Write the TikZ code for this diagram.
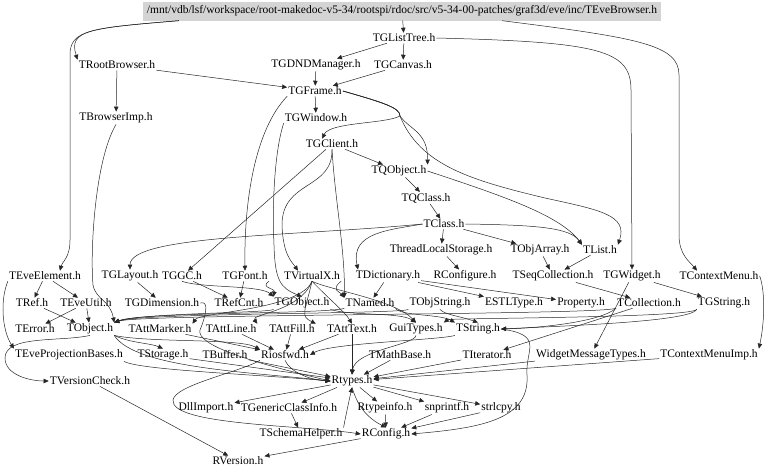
\documentclass[tikz,border=0pt]{standalone}
\usepackage{fontspec}
\setmainfont{Liberation Serif}
\usetikzlibrary{arrows.meta,graphs}
\tikzset{
    file/.style ={
        inner sep=1pt,
        font=\fontsize{11.5}{13}\selectfont
    },
    mainfile/.style ={
        file,
        fill=black!17,
        minimum height=19pt,
        inner xsep=4pt
    },
    dep/.style ={
        ->,
        draw=black!85,
        line width=0.5pt
    }
}

\begin{document}
\begin{tikzpicture}[x=1pt,y=-1pt,>={Triangle[length=5pt,width=4.5pt]}]
    \useasboundingbox (0,0) rectangle (768,475);
    \node[mainfile] (root) at(402,11) {/mnt/vdb/lsf/workspace/root-makedoc-v5-34/rootspi/rdoc/src/v5-34-00-patches/graf3d/eve/inc/TEveBrowser.h};
    \node[file] (TGListTree) at(404,38) {TGListTree.h};
    \node[file] (TRootBrowser) at(117,65) {TRootBrowser.h};
    \node[file] (TGDNDManager) at(316,65) {TGDNDManager.h};
    \node[file] (TGCanvas) at(403,65) {TGCanvas.h};
    \node[file] (TGFrame) at(315,91) {TGFrame.h};
    \node[file] (TBrowserImp) at(116,118) {TBrowserImp.h};
    \node[file] (TGWindow) at(316,118) {TGWindow.h};
    \node[file] (TGClient) at(332,144) {TGClient.h};
    \node[file] (TQObject) at(399,171) {TQObject.h};
    \node[file] (TQClass) at(426,198) {TQClass.h};
    \node[file] (TClass) at(444,224) {TClass.h};
    \node[file] (ThreadLocalStorage) at(441,250) {ThreadLocalStorage.h};
    \node[file] (TObjArray) at(540,250) {TObjArray.h};
    \node[file] (TList) at(600,250) {TList.h};
    % row of TEveElement
    \node[file] (TEveElement) at(45,276) {TEveElement.h};
    \node[file] (TGLayout) at(130,276) {TGLayout.h};
    \node[file] (TGGC) at(182,276) {TGGC.h};
    \node[file] (TGFont) at(245,276) {TGFont.h};
    \node[file] (TVirtualX) at(312,276) {TVirtualX.h};
    \node[file] (TDictionary) at(388,276) {TDictionary.h};
    \node[file] (RConfigure) at(465,276) {RConfigure.h};
    \node[file] (TSeqCollection) at(553,276) {TSeqCollection.h};
    \node[file] (TGWidget) at(632,276) {TGWidget.h};
    \node[file] (TContextMenu) at(719,276) {TContextMenu.h};
    % row of TNamed
    \node[file] (TRef) at(32,303) {TRef.h};
    \node[file] (TEveUtil) at(86,303) {TEveUtil.h};
    \node[file] (TGDimension) at(162,303) {TGDimension.h};
    \node[file] (TRefCnt) at(239,303) {TRefCnt.h};
    \node[file] (TGObject) at(302,303) {TGObject.h};
    \node[file] (TNamed) at(370,303) {TNamed.h};
    \node[file] (TObjString) at(440,303) {TObjString.h};
    \node[file] (ESTLType) at(514,303) {ESTLType.h};
    \node[file] (Property) at(581,303) {Property.h};
    \node[file] (TCollection) at(649,303) {TCollection.h};
    \node[file] (TGString) at(724,303) {TGString.h};
    % row of TObject
    \node[file] (TError) at(35,329) {TError.h};
    \node[file] (TObject) at(90,329) {TObject.h};
    \node[file] (TAttMarker) at(160,329) {TAttMarker.h};
    \node[file] (TAttLine) at(231,329) {TAttLine.h};
    \node[file] (TAttFill) at(292,329) {TAttFill.h};
    \node[file] (TAttText) at(352,329) {TAttText.h};
    \node[file] (GuiTypes) at(416,329) {GuiTypes.h};
    \node[file] (TString) at(478,329) {TString.h};
    % row of Riosfwd
    \node[file] (TEveProjectionBases) at(69,355) {TEveProjectionBases.h};
    \node[file] (TStorage) at(163,355) {TStorage.h};
    \node[file] (TBuffer) at(225,355) {TBuffer.h};
    \node[file] (Riosfwd) at(285,355) {Riosfwd.h};
    \node[file] (TMathBase) at(400,355) {TMathBase.h};
    \node[file] (TIterator) at(487,355) {TIterator.h};
    \node[file] (WidgetMessageTypes) at(591,355) {WidgetMessageTypes.h};
    \node[file] (TContextMenuImp) at(709,355) {TContextMenuImp.h};
    % bottom
    \node[file] (TVersionCheck) at(90,381) {TVersionCheck.h};
    \node[file] (Rtypes) at(352,381) {Rtypes.h};
    \node[file] (DllImport) at(206,408) {DllImport.h};
    \node[file] (TGenericClassInfo) at(289,408) {TGenericClassInfo.h};
    \node[file] (Rtypeinfo) at(385,408) {Rtypeinfo.h};
    \node[file] (snprintf) at(447,408) {snprintf.h};
    \node[file] (strlcpy) at(501,408) {strlcpy.h};
    \node[file] (TSchemaHelper) at(301,434) {TSchemaHelper.h};
    \node[file] (RConfig) at(386,434) {RConfig.h};
    \node[file] (RVersion) at(238,461) {RVersion.h};
    \graph[edges={draw=black!85,line width=0.5pt}]{
        (root)->(TGListTree);
        (TGListTree)->{(TGDNDManager),(TGCanvas)};
        (TGCanvas)->(TGFrame);
        (TGDNDManager)->(TGFrame);
        (TRootBrowser)->(TGFrame);
        (TRootBrowser)->(TBrowserImp);
        (TGFrame)->(TGWindow);
        (TGClient)->(TQObject)->(TQClass)->(TClass);
        (TClass)->{(ThreadLocalStorage),(TObjArray)};
        (ThreadLocalStorage)->(RConfigure);
        (TObjArray)->(TSeqCollection);
        (TList)->(TSeqCollection)->(TCollection);
        (TGClient)->(TGGC);
        (TEveElement)->{(TRef),(TEveUtil)};
        (TEveUtil)->{(TError),(TObject)};
        (TRef)->(TObject);
        (TGLayout)->(TGDimension);
        (TGGC)->(TRefCnt);
        (TGFont)->(TRefCnt);
        (TDictionary)->{(TNamed),(ESTLType),(Property)};
        (TGWidget)->(TGString);
        (TGWidget)->(WidgetMessageTypes);
        (TAttMarker)->(Riosfwd);
        (TAttLine)->(Riosfwd);
        (TAttFill)->(Riosfwd);
        (TAttText)->(Riosfwd);
        (TAttText)->(Rtypes);
        (TMathBase)->(Rtypes);
        (TIterator)->(Rtypes);
        (WidgetMessageTypes)->(Rtypes);
        (TContextMenuImp)->(Rtypes);
        (TCollection)->(TIterator);
        (TStorage)->(Rtypes);
        (TBuffer)->(Rtypes);
        (Rtypes)->{(DllImport),(TGenericClassInfo),(Rtypeinfo),(snprintf),(strlcpy)};
        (TGenericClassInfo)->(TSchemaHelper);
        (Rtypeinfo)->(RConfig);
        (snprintf)->(RConfig);
        (strlcpy)->(RConfig);
        (RConfig)->(RVersion);
        (TVersionCheck)->(RVersion);
    };
    % long bent connectors
    \draw[dep] ([xshift=36]root.south west) .. controls (90,28) and (68,30) .. (TRootBrowser.north west);
    \draw[dep] ([xshift=36]root.south west) .. controls (90,28) and (70,30) .. (70,55) -- (70,240) .. controls (70,258) and (62,262) .. ([xshift=15]TEveElement.north);
    \draw[dep] ([xshift=-159]root.south east) .. controls (640,38) and (679,45) .. (679,75) -- (679,235) .. controls (679,255) and (690,262) .. ([xshift=-22]TContextMenu.north);
    \draw[dep] (TGListTree.east) .. controls (600,42) and (631,50) .. (631,90) -- (TGWidget.north);
    \draw[dep] (TGFrame.east) .. controls (385,103) and (400,108) .. (400,116) .. controls (385,124) and (330,122) .. ([xshift=-10]TGClient.north);
    \draw[dep] (TGFrame.east) .. controls (385,103) and (400,108) .. (400,116) .. controls (410,130) and (428,132) .. (TQObject.north east);
    \draw[dep] (TGFrame.east) .. controls (385,103) and (400,108) .. (400,116) .. controls (420,165) and (470,180) .. (545,198) .. controls (600,210) and (628,215) .. (TList.north east);
    \draw[dep] (TGFrame.south west) .. controls (255,130) and (244,200) .. (TGFont.north);
    \draw[dep] (TGWindow.south west) .. controls (275,150) and (272,200) .. (274,245) .. controls (275,280) and (280,288) .. (TGObject.north);
    \draw[dep] (TGClient.south) .. controls (333,190) and (282,180) .. (282,225) .. controls (283,255) and (292,262) .. ([xshift=-14]TVirtualX.north);
    \draw[dep] (TGClient.south) .. controls (335,200) and (345,250) .. (TNamed.north west);
    \draw[dep] (TClass.west) .. controls (390,230) and (350,232) .. ([xshift=-30]TDictionary.north);
    \draw[dep] (TClass.west) .. controls (300,236) and (130,235) .. (TGLayout.north);
    \draw[dep] (TQObject.east) .. controls (500,195) and (560,215) .. (TList.north west);
    \draw[dep] (TClass.east) .. controls (540,225) and (570,228) .. (TList.north west);
    \draw[dep] (TBrowserImp.south) .. controls (95,160) and (90,250) .. (93,285) .. controls (96,300) and (110,300) .. (TObject.north east);
    % bundles into the TObject row
    \draw[dep] (TNamed.south west) .. controls (330,314) and (140,312) .. (TObject.north east);
    \draw[dep] (TGObject.south west) .. controls (270,313) and (140,313) .. (TObject.north east);
    \draw[dep] (TObjString.south west) .. controls (400,314) and (140,313) .. (TObject.north east);
    \draw[dep] (TCollection.south west) .. controls (600,315) and (140,314) .. (TObject.north east);
    \draw[dep] (TVirtualX.south) .. controls (300,310) and (200,312) .. (TAttMarker.north east);
    \draw[dep] (TVirtualX.south) .. controls (300,312) and (250,314) .. (TAttLine.north east);
    \draw[dep] (TVirtualX.south) .. controls (305,312) and (300,316) .. (TAttFill.north east);
    \draw[dep] (TVirtualX.south) .. controls (330,300) and (345,312) .. (TAttText.north);
    \draw[dep] (TVirtualX.south) .. controls (330,290) and (395,300) .. (GuiTypes.north);
    \draw[dep] (TVirtualX.south east) .. controls (330,290) and (340,292) .. (TNamed.north west);
    \draw[dep] (TGGC.south) .. controls (200,288) and (260,285) .. (TGObject.north west);
    \draw[dep] (TGFont.south east) .. controls (260,288) and (275,288) .. (TGObject.north west);
    \draw[dep] (TGObject.south east) .. controls (350,316) and (400,312) .. (GuiTypes.north);
    \draw[dep] (TNamed.south east) .. controls (400,316) and (440,314) .. (TString.north west);
    \draw[dep] (TObjString.south) .. controls (445,315) and (460,316) .. (TString.north);
    \draw[dep] (TCollection.south west) .. controls (600,322) and (540,328) .. (TString.east);
    \draw[dep] (TGString.south west) .. controls (690,322) and (560,326) .. (TString.east);
    \draw[dep] (TGString.south west) .. controls (690,318) and (450,318) .. (GuiTypes.north east);
    \draw[dep] (TContextMenu.east) .. controls (765,290) and (765,320) .. (TContextMenuImp.north east);
    % lower part
    \draw[dep] (TEveElement.south west) .. controls (0,300) and (2,330) .. (TEveProjectionBases.north west);
    \draw[dep] (TObject.south) .. controls (60,342) and (5,335) .. (5,358) .. controls (5,375) and (30,381) .. (TVersionCheck.west);
    \draw[dep] (TObject.south east) .. controls (130,343) and (150,343) .. (TStorage.north);
    \draw[dep] (TObject.south east) .. controls (150,343) and (240,338) .. (Riosfwd.north west);
    \draw[dep] (TObject.south east) .. controls (135,368) and (250,372) .. (Rtypes.west);
    \draw[dep] (TEveProjectionBases.south east) .. controls (140,370) and (250,374) .. (Rtypes.west);
    \draw[dep] (TGDimension.east) .. controls (210,300) and (205,318) .. (200,330) .. controls (196,345) and (250,362) .. (Rtypes.west);
    \draw[dep] (Riosfwd.south west) .. controls (240,372) and (175,385) .. (173,400) .. controls (170,425) and (300,425) .. (RConfig.west);
    \draw[dep] (Riosfwd.south) .. controls (290,372) and (310,380) .. (Rtypes.west);
    \draw[dep] (TString.south west) .. controls (440,340) and (330,343) .. (Riosfwd.east);
    \draw[dep] (GuiTypes.south) .. controls (415,345) and (355,350) .. (Rtypes.north);
    \draw[dep] (TString.east) .. controls (545,335) and (525,350) .. (527,375) .. controls (530,420) and (480,428) .. (RConfig.east);
    \draw[dep] (Rtypes.south) .. controls (356,400) and (362,415) .. (RConfig.north);
    \draw[dep] (TSchemaHelper.north east) .. controls (345,420) and (348,405) .. (Rtypes.south);
\end{tikzpicture}
\end{document}
